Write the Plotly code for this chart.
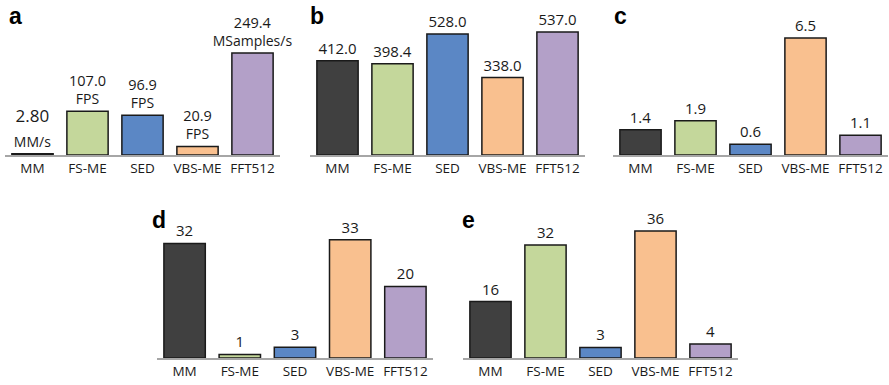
import plotly.graph_objects as go

categories = ["MM", "FS-ME", "SED", "VBS-ME", "FFT512"]
colors = ["#404040", "#c4d79b", "#5b87c5", "#f9c08f", "#b3a0c8"]

a_values = [2.80, 107.0, 96.9, 20.9, 249.4]
a_units = ["MM/s", "FPS", "FPS", "FPS", "MSamples/s"]
b_values = [412.0, 398.4, 528.0, 338.0, 537.0]
c_values = [1.4, 1.9, 0.6, 6.5, 1.1]
d_values = [32, 1, 3, 33, 20]
e_values = [16, 32, 3, 36, 4]

W, H = 889, 385
FONT = "Open Sans"

a_text = []
a_sizes = []
for i, (v, u) in enumerate(zip(a_values, a_units)):
    if i == 0:
        a_text.append(f"<span style='font-size:17px'>{v:.2f}</span><br><span style='font-size:14px'>{u}</span>")
        a_sizes.append(19)
    else:
        a_text.append(f"<span style='font-size:14.5px'>{v:.1f}</span><br>{u}")
        a_sizes.append(14)

panels = [
    ("a", a_values, a_text, a_sizes, 5, 280, 155, 366.8, 7, 16),
    ("b", b_values, [f"{v:.1f}" for v in b_values], 15, 310, 585, 155, 655.0, 308, 16),
    ("c", c_values, [f"{v:.1f}" for v in c_values], 15, 613, 888, 155, 8.33, 612, 16),
    ("d", d_values, [f"{v:d}" for v in d_values], 15, 157, 433, 358, 41.9, 150, 220),
    ("e", e_values, [f"{v:d}" for v in e_values], 15, 463, 738, 358, 42.5, 460, 220),
]

fig = go.Figure()
layout = {}
annotations = []
for k, (letter, vals, texts, tsize, x0, x1, base, ymax, lx, ly) in enumerate(panels, start=1):
    sx = "" if k == 1 else str(k)
    fig.add_trace(go.Bar(
        x=categories, y=vals, text=texts,
        textposition="outside", constraintext="none", cliponaxis=False,
        textfont=dict(family=FONT, size=tsize, color="#1a1a1a"),
        marker=dict(color=colors, line=dict(color="#1a1a1a", width=1.5)),
        xaxis="x" + sx, yaxis="y" + sx, showlegend=False, hoverinfo="skip",
    ))
    ybot = (H - base) / H
    ytop = (H - base + 150) / H
    layout["xaxis" + sx] = dict(
        domain=[x0 / W, x1 / W], anchor="y" + sx, type="category",
        range=[-0.5, 4.5], showline=True, linecolor="#a6a6a6", linewidth=2,
        showgrid=False, zeroline=False, ticks="", fixedrange=True, automargin=False,
        tickfont=dict(family=FONT, size=13.5, color="#1a1a1a"),
    )
    layout["yaxis" + sx] = dict(
        domain=[ybot, ytop], anchor="x" + sx, range=[0, ymax], automargin=False,
        visible=False, showgrid=False, zeroline=False, fixedrange=True,
    )
    annotations.append(dict(
        text=f"<b>{letter}</b>", xref="paper", yref="paper",
        x=lx / W, y=(H - ly) / H, xanchor="left", yanchor="middle",
        showarrow=False, font=dict(family="Liberation Sans, Arial", size=23, color="#000000"),
    ))

fig.update_layout(
    width=W, height=H, margin=dict(l=0, r=0, t=0, b=0, autoexpand=False),
    paper_bgcolor="white", plot_bgcolor="white",
    bargap=0.25, annotations=annotations, **layout,
)
fig.write_html(
    "out.html",
    config={"displayModeBar": False},
    post_script="document.body.style.margin='0';document.documentElement.style.overflow='hidden';",
)
